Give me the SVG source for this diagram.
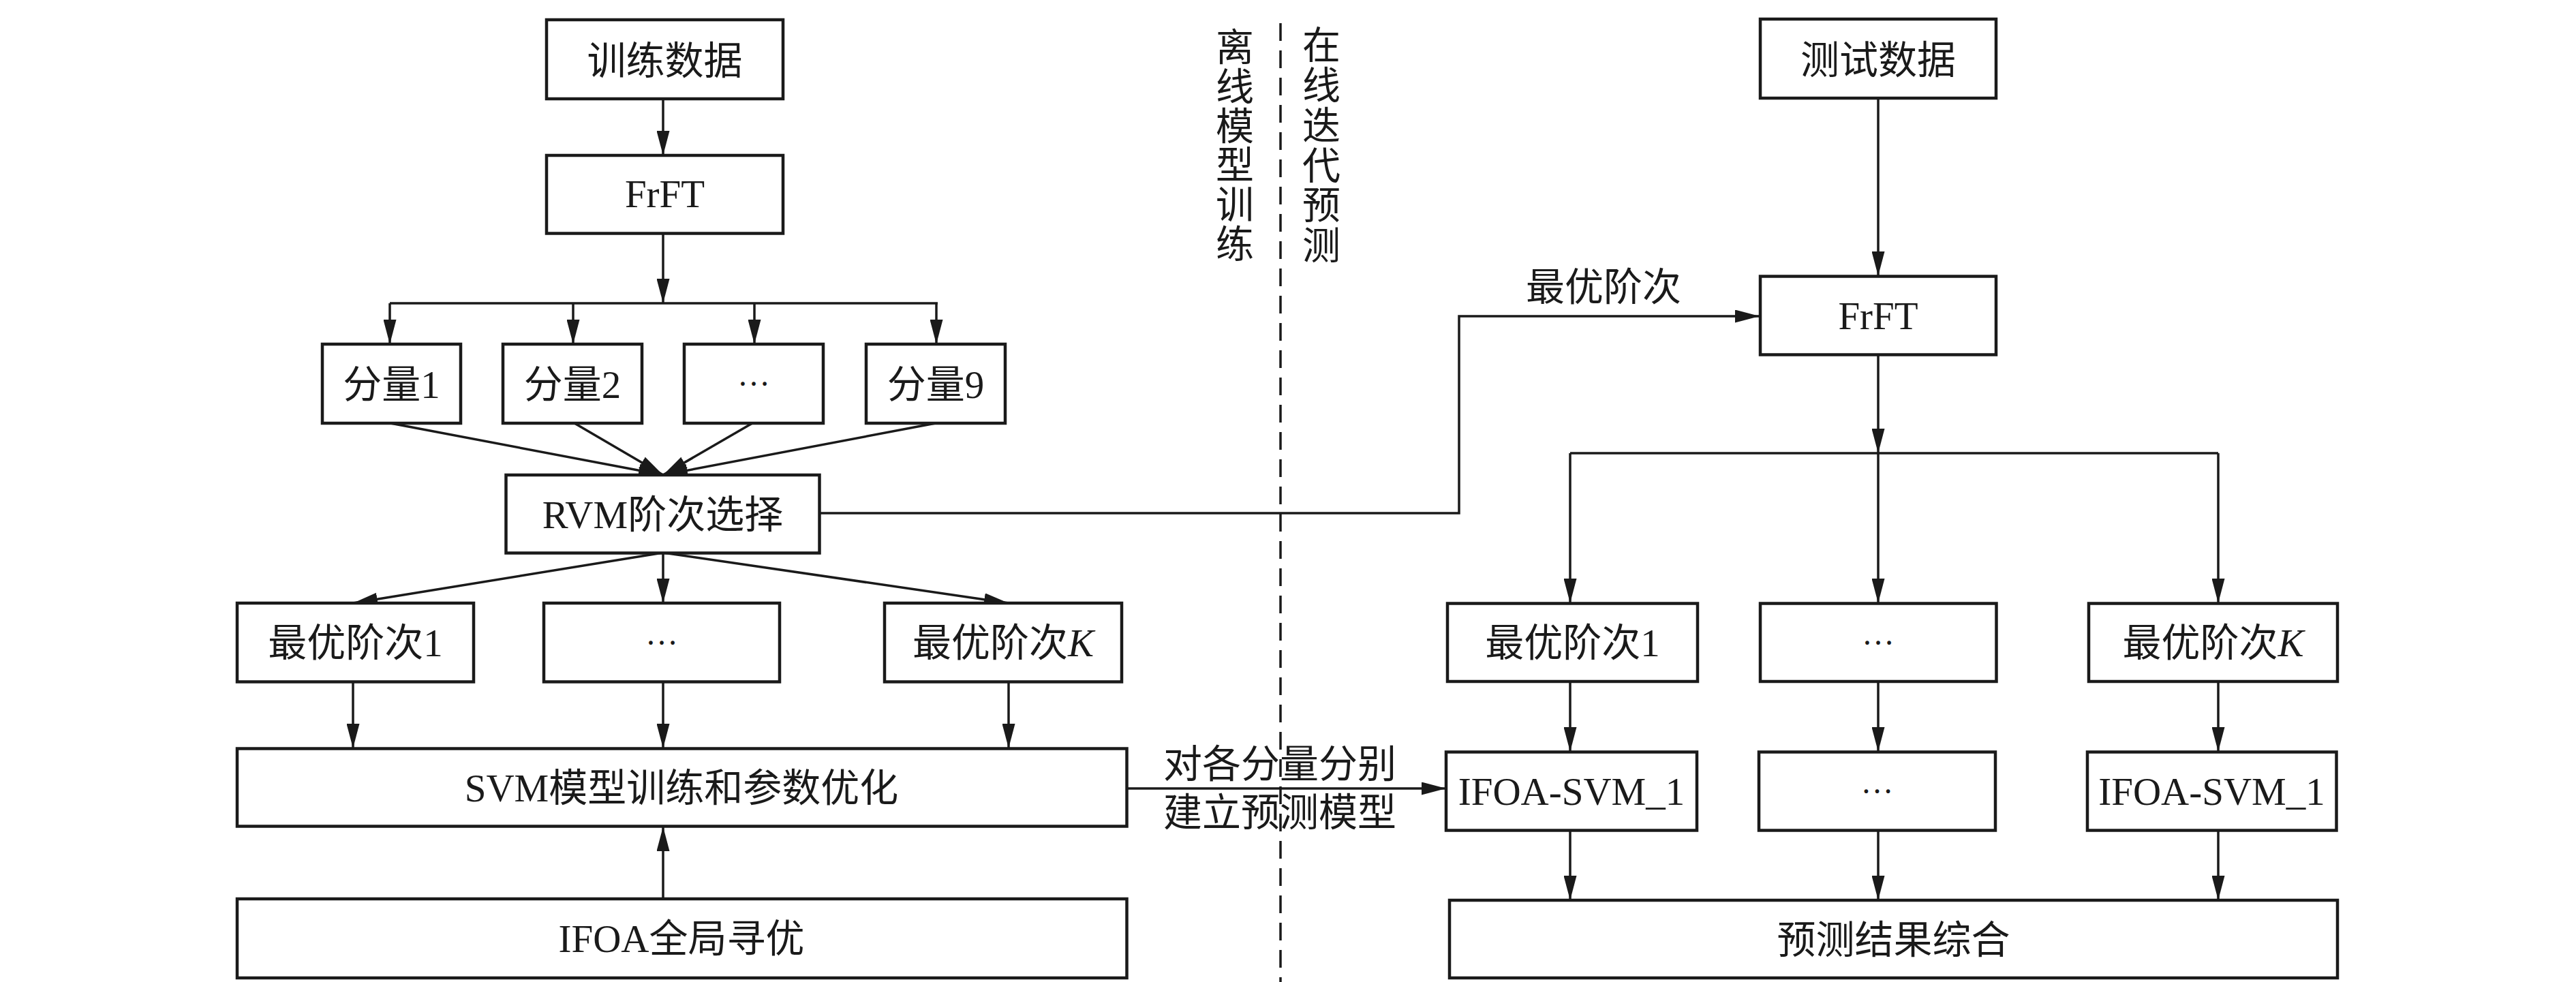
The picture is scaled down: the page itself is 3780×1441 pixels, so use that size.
<svg xmlns="http://www.w3.org/2000/svg" width="3780" height="1441" viewBox="0 0 3780 1441">
<style>
.box{fill:#fff;stroke:#1a1a1a;stroke-width:4.5}
.lbl{font-family:"Liberation Serif","Noto Sans CJK SC",serif;font-size:57px;fill:#1a1a1a;text-anchor:middle}
.ell{font-size:48px}
.vt{font-family:"Liberation Serif","Noto Sans CJK SC",serif;font-size:56px;fill:#1a1a1a;text-anchor:middle}
.ln{fill:none;stroke:#1a1a1a;stroke-width:3.5}
.arr{marker-end:url(#ah)}
.dash{fill:none;stroke:#1a1a1a;stroke-width:3.5;stroke-dasharray:26 14}
</style>
<defs>
<marker id="ah" markerUnits="userSpaceOnUse" markerWidth="36" markerHeight="19" refX="36" refY="9.5" orient="auto">
<path d="M0,0 L36,9.5 L0,19 z" fill="#1a1a1a"/>
</marker>
</defs>
<rect width="3780" height="1441" fill="#fff"/>

<g id="connectors">
<line class="ln arr" x1="973" y1="145" x2="973" y2="228"/>
<line class="ln arr" x1="973" y1="342" x2="973" y2="445"/>
<line class="ln" x1="572" y1="445" x2="1376" y2="445"/>
<line class="ln arr" x1="572" y1="445" x2="572" y2="505"/>
<line class="ln arr" x1="841" y1="445" x2="841" y2="505"/>
<line class="ln arr" x1="1107" y1="445" x2="1107" y2="505"/>
<line class="ln arr" x1="1374" y1="445" x2="1374" y2="505"/>
<line class="ln arr" x1="573" y1="621" x2="973" y2="697"/>
<line class="ln arr" x1="843" y1="621" x2="973" y2="697"/>
<line class="ln arr" x1="1104" y1="621" x2="973" y2="697"/>
<line class="ln arr" x1="1373" y1="621" x2="973" y2="697"/>
<line class="ln arr" x1="973" y1="811" x2="518" y2="885"/>
<line class="ln arr" x1="973" y1="811" x2="973" y2="885"/>
<line class="ln arr" x1="973" y1="811" x2="1480" y2="885"/>
<line class="ln arr" x1="518" y1="1001" x2="518" y2="1098"/>
<line class="ln arr" x1="973" y1="1001" x2="973" y2="1098"/>
<line class="ln arr" x1="1480" y1="1001" x2="1480" y2="1098"/>
<line class="ln arr" x1="973" y1="1319" x2="973" y2="1213"/>
<line class="ln arr" x1="1654" y1="1157" x2="2122" y2="1157"/>
<polyline class="ln arr" points="1202,753 2141,753 2141,464 2582,464"/>
<line class="ln arr" x1="2756" y1="144" x2="2756" y2="405"/>
<line class="ln arr" x1="2756" y1="520" x2="2756" y2="665"/>
<line class="ln" x1="2304" y1="665" x2="3255" y2="665"/>
<line class="ln arr" x1="2304" y1="665" x2="2304" y2="885"/>
<line class="ln arr" x1="2756" y1="665" x2="2756" y2="885"/>
<line class="ln arr" x1="3255" y1="665" x2="3255" y2="885"/>
<line class="ln arr" x1="2304" y1="1000" x2="2304" y2="1103"/>
<line class="ln arr" x1="2756" y1="1000" x2="2756" y2="1103"/>
<line class="ln arr" x1="3255" y1="1000" x2="3255" y2="1103"/>
<line class="ln arr" x1="2304" y1="1218" x2="2304" y2="1321"/>
<line class="ln arr" x1="2756" y1="1218" x2="2756" y2="1321"/>
<line class="ln arr" x1="3255" y1="1218" x2="3255" y2="1321"/>
</g>

<g id="divider">
<line class="dash" x1="1879" y1="34" x2="1879" y2="1441"/>
<text class="vt"><tspan x="1812" y="89">离</tspan><tspan x="1812" y="147">线</tspan><tspan x="1812" y="205">模</tspan><tspan x="1812" y="262">型</tspan><tspan x="1812" y="320">训</tspan><tspan x="1812" y="378">练</tspan></text>
<text class="vt"><tspan x="1939" y="86">在</tspan><tspan x="1939" y="145">线</tspan><tspan x="1939" y="204">迭</tspan><tspan x="1939" y="263">代</tspan><tspan x="1939" y="321">预</tspan><tspan x="1939" y="380">测</tspan></text>
</g>

<g id="edge-labels">
<text class="lbl" x="2353" y="441">最优阶次</text>
<text class="lbl" x="1878" y="1141">对各分量分别</text>
<text class="lbl" x="1878" y="1212">建立预测模型</text>
</g>

<g id="n-train"><rect class="box" x="802" y="29" width="347" height="116"/><text class="lbl" x="975.5" y="109">训练数据</text></g>
<g id="n-frft-l"><rect class="box" x="802" y="228" width="347" height="114.5"/><text class="lbl" x="975.5" y="304">FrFT</text></g>
<g id="n-c1"><rect class="box" x="473" y="505" width="203" height="116"/><text class="lbl" x="574.5" y="584">分量1</text></g>
<g id="n-c2"><rect class="box" x="738" y="505" width="204" height="116"/><text class="lbl" x="840" y="584">分量2</text></g>
<g id="n-c3"><rect class="box" x="1004" y="505" width="204" height="116"/><text class="lbl ell" x="1106" y="566">…</text></g>
<g id="n-c9"><rect class="box" x="1271" y="505" width="204" height="116"/><text class="lbl" x="1373" y="584">分量9</text></g>
<g id="n-rvm"><rect class="box" x="742.5" y="697" width="460" height="114.5"/><text class="lbl" x="972.5" y="775">RVM阶次选择</text></g>
<g id="n-o1"><rect class="box" x="348" y="885" width="347" height="115.5"/><text class="lbl" x="521.5" y="963">最优阶次1</text></g>
<g id="n-o2"><rect class="box" x="798" y="885" width="346" height="115.5"/><text class="lbl ell" x="971" y="946">…</text></g>
<g id="n-ok"><rect class="box" x="1298" y="885" width="348" height="115.5"/><text class="lbl" x="1472" y="963">最优阶次<tspan font-style="italic">K</tspan></text></g>
<g id="n-svm"><rect class="box" x="348" y="1098.5" width="1305.5" height="114"/><text class="lbl" x="1000" y="1176">SVM模型训练和参数优化</text></g>
<g id="n-ifoa"><rect class="box" x="348" y="1319" width="1305.5" height="116"/><text class="lbl" x="1000" y="1397">IFOA全局寻优</text></g>

<g id="n-test"><rect class="box" x="2583" y="28" width="346" height="116"/><text class="lbl" x="2756" y="108">测试数据</text></g>
<g id="n-frft-r"><rect class="box" x="2583" y="405.5" width="346" height="115"/><text class="lbl" x="2756" y="483">FrFT</text></g>
<g id="n-r-o1"><rect class="box" x="2124" y="885.5" width="367" height="114.5"/><text class="lbl" x="2307.5" y="963">最优阶次1</text></g>
<g id="n-r-o2"><rect class="box" x="2583" y="885.5" width="346.5" height="114.5"/><text class="lbl ell" x="2756" y="946">…</text></g>
<g id="n-r-ok"><rect class="box" x="3065" y="885.5" width="365" height="114.5"/><text class="lbl" x="3247.5" y="963">最优阶次<tspan font-style="italic">K</tspan></text></g>
<g id="n-m1"><rect class="box" x="2122" y="1103.5" width="368" height="115"/><text class="lbl" x="2306" y="1181">IFOA-SVM_1</text></g>
<g id="n-m2"><rect class="box" x="2581" y="1103.5" width="347" height="115"/><text class="lbl ell" x="2754.5" y="1164">…</text></g>
<g id="n-mk"><rect class="box" x="3063" y="1103.5" width="365.5" height="115"/><text class="lbl" x="3245.5" y="1181">IFOA-SVM_1</text></g>
<g id="n-result"><rect class="box" x="2127" y="1321" width="1303" height="114"/><text class="lbl" x="2778.5" y="1399">预测结果综合</text></g>
</svg>
